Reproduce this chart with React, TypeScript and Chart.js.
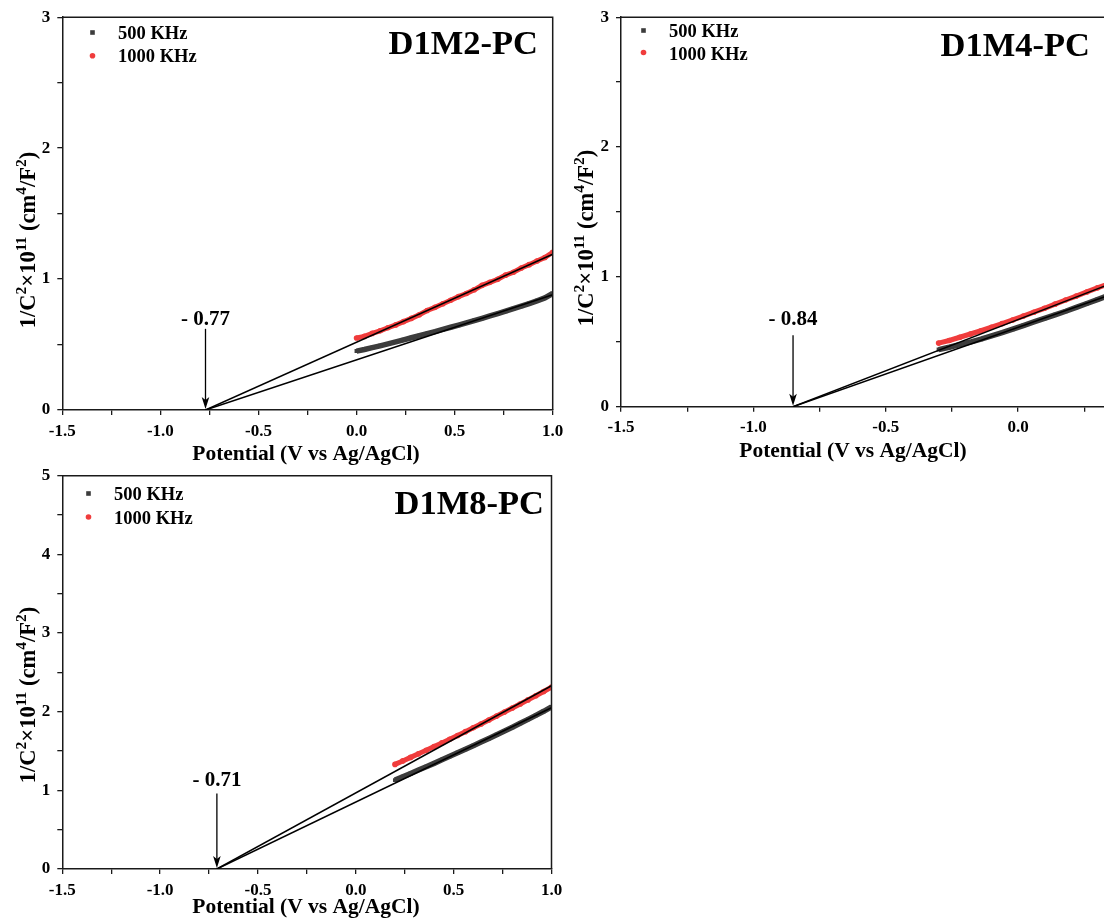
import React, { useEffect, useRef } from 'react';
import { Chart, registerables } from 'chart.js';

Chart.register(...registerables);

// ---------- shared text / axis values ----------
const SERIES_NAMES = ['500 KHz', '1000 KHz'];
const X_AXIS_TITLE = 'Potential (V vs Ag/AgCl)';
const Y_AXIS_TITLE_PARTS: [string, boolean][] = [
  ['1/C', false], ['2', true], ['\u00d710', false], ['11', true],
  [' (cm', false], ['4', true], ['/F', false], ['2', true], [')', false],
];
const X_MIN = -1.5;
const X_MAX = 1.0;
const X_TICK_STEP = 0.25;
const Y_TICK_STEP = 0.5;

// ---------- D1M2-PC ----------
const D1M2_TITLE = 'D1M2-PC';
const D1M2_Y_MAX = 3;
const D1M2_X = [0.00, 0.04, 0.08, 0.12, 0.16, 0.20, 0.24, 0.28, 0.32, 0.36, 0.40, 0.44, 0.48, 0.52, 0.56, 0.60, 0.64, 0.68, 0.72, 0.76, 0.80, 0.84, 0.88, 0.92, 0.96, 1.00];
const D1M2_500 = [0.450, 0.462, 0.476, 0.490, 0.505, 0.520, 0.536, 0.552, 0.567, 0.583, 0.598, 0.615, 0.632, 0.648, 0.665, 0.683, 0.700, 0.718, 0.736, 0.755, 0.774, 0.793, 0.813, 0.834, 0.856, 0.890];
const D1M2_1000 = [0.550, 0.562, 0.585, 0.605, 0.628, 0.650, 0.675, 0.700, 0.728, 0.760, 0.784, 0.812, 0.838, 0.866, 0.890, 0.918, 0.952, 0.975, 0.998, 1.030, 1.052, 1.085, 1.110, 1.138, 1.165, 1.205];
const D1M2_FIT_X = [-0.77, 1.0];
const D1M2_FIT_500 = [0, 0.88];
const D1M2_FIT_1000 = [0, 1.19];
const D1M2_INTERCEPT = -0.77;
const D1M2_INTERCEPT_LABEL = '- 0.77';

// ---------- D1M4-PC ----------
const D1M4_TITLE = 'D1M4-PC';
const D1M4_Y_MAX = 3;
const D1M4_X = [-0.30, -0.26, -0.22, -0.18, -0.14, -0.10, -0.06, -0.02, 0.02, 0.06, 0.10, 0.14, 0.18, 0.22, 0.26, 0.30, 0.34, 0.38, 0.42];
const D1M4_500 = [0.440, 0.458, 0.478, 0.498, 0.520, 0.545, 0.570, 0.597, 0.625, 0.653, 0.680, 0.708, 0.735, 0.765, 0.795, 0.825, 0.855, 0.885, 0.915];
const D1M4_1000 = [0.490, 0.510, 0.535, 0.560, 0.585, 0.612, 0.640, 0.668, 0.698, 0.728, 0.758, 0.790, 0.822, 0.852, 0.884, 0.915, 0.945, 0.975, 1.005];
const D1M4_FIT_X = [-0.85, 1.0];
const D1M4_FIT_500 = [0, 1.33];
const D1M4_FIT_1000 = [0, 1.46];
const D1M4_INTERCEPT = -0.85;
const D1M4_INTERCEPT_LABEL = '- 0.84';

// ---------- D1M8-PC ----------
const D1M8_TITLE = 'D1M8-PC';
const D1M8_Y_MAX = 5;
const D1M8_X = [0.20, 0.24, 0.28, 0.32, 0.36, 0.40, 0.44, 0.48, 0.52, 0.56, 0.60, 0.64, 0.68, 0.72, 0.76, 0.80, 0.84, 0.88, 0.92, 0.96, 1.00];
const D1M8_500 = [1.130, 1.172, 1.215, 1.258, 1.300, 1.343, 1.388, 1.432, 1.477, 1.522, 1.568, 1.614, 1.660, 1.708, 1.755, 1.803, 1.852, 1.902, 1.953, 2.005, 2.060];
const D1M8_1000 = [1.330, 1.374, 1.419, 1.464, 1.510, 1.556, 1.603, 1.650, 1.698, 1.746, 1.795, 1.844, 1.894, 1.944, 1.995, 2.046, 2.098, 2.150, 2.203, 2.257, 2.312];
const D1M8_FIT_X = [-0.71, 1.0];
const D1M8_FIT_500 = [0, 2.05];
const D1M8_FIT_1000 = [0, 2.33];
const D1M8_INTERCEPT = -0.71;
const D1M8_INTERCEPT_LABEL = '- 0.71';

// ---------- styles ----------
const FONT = '"Liberation Serif", "Times New Roman", serif';
const AXIS_COLOR = '#1a1a1a';
const GRAY = '#3c3c3c';
const RED = '#f03c3c';
const PAGE_W = 1104;
const PAGE_H = 922;

type Layout = {
  canvasW: number;
  area: { l: number; t: number; r: number; b: number };
  titleRight: number; titleBase: number;
  legMarkX: number; legTextX: number; legMarkY: [number, number]; legBase: [number, number];
  xTitleX: number; xTitleBase: number;
  yTitleX: number; yTitleY: number;
  arrowTop: number; labelY: number;
};

type PanelCfg = {
  title: string; yMax: number;
  x: number[]; s500: number[]; s1000: number[];
  fitX: number[]; fit500: number[]; fit1000: number[];
  intercept: number; interceptLabel: string;
  layout: Layout;
};

const PANELS: PanelCfg[] = [
  {
    title: D1M2_TITLE, yMax: D1M2_Y_MAX, x: D1M2_X, s500: D1M2_500, s1000: D1M2_1000,
    fitX: D1M2_FIT_X, fit500: D1M2_FIT_500, fit1000: D1M2_FIT_1000,
    intercept: D1M2_INTERCEPT, interceptLabel: D1M2_INTERCEPT_LABEL,
    layout: {
      canvasW: PAGE_W, area: { l: 62.3, t: 15.5, r: 552.7, b: 410 },
      titleRight: 538, titleBase: 54,
      legMarkX: 92.5, legTextX: 118, legMarkY: [32.5, 55.8], legBase: [38.5, 62],
      xTitleX: 306, xTitleBase: 460,
      yTitleX: 27, yTitleY: 240,
      arrowTop: 0.62, labelY: 0.646,
    },
  },
  {
    title: D1M4_TITLE, yMax: D1M4_Y_MAX, x: D1M4_X, s500: D1M4_500, s1000: D1M4_1000,
    fitX: D1M4_FIT_X, fit500: D1M4_FIT_500, fit1000: D1M4_FIT_1000,
    intercept: D1M4_INTERCEPT, interceptLabel: D1M4_INTERCEPT_LABEL,
    layout: {
      canvasW: 1320, area: { l: 621, t: 15.7, r: 1282.7, b: 406.7 },
      titleRight: 1090, titleBase: 55.5,
      legMarkX: 643.5, legTextX: 669, legMarkY: [30.5, 52.5], legBase: [36.5, 59.5],
      xTitleX: 853, xTitleBase: 457,
      yTitleX: 585, yTitleY: 238,
      arrowTop: 0.55, labelY: 0.627,
    },
  },
  {
    title: D1M8_TITLE, yMax: D1M8_Y_MAX, x: D1M8_X, s500: D1M8_500, s1000: D1M8_1000,
    fitX: D1M8_FIT_X, fit500: D1M8_FIT_500, fit1000: D1M8_FIT_1000,
    intercept: D1M8_INTERCEPT, interceptLabel: D1M8_INTERCEPT_LABEL,
    layout: {
      canvasW: PAGE_W, area: { l: 62.3, t: 475.7, r: 551.5, b: 869 },
      titleRight: 544, titleBase: 513.5,
      legMarkX: 88.5, legTextX: 114, legMarkY: [493.5, 517], legBase: [500, 523.5],
      xTitleX: 306, xTitleBase: 913,
      yTitleX: 27, yTitleY: 695,
      arrowTop: 0.96, labelY: 1.06,
    },
  },
];

const Y_AXIS_W = 40;
const X_AXIS_H = 40;

const decoPlugin = {
  id: 'panelDeco',
  afterDatasetsDraw(chart: any, _args: any, opts: any) {
    const cfg: PanelCfg = opts.cfg;
    const L = cfg.layout;
    const { ctx, chartArea: a, scales } = chart;
    const xs = scales.x;
    const ys = scales.y;
    ctx.save();
    // frame (top & right)
    ctx.strokeStyle = AXIS_COLOR;
    ctx.lineWidth = 1.5;
    ctx.beginPath();
    ctx.moveTo(a.left, a.top);
    ctx.lineTo(a.right, a.top);
    ctx.lineTo(a.right, a.bottom);
    ctx.stroke();

    // arrow to intercept
    const ax = xs.getPixelForValue(cfg.intercept);
    const y0 = ys.getPixelForValue(0);
    const yTop = ys.getPixelForValue(L.arrowTop);
    ctx.strokeStyle = '#000';
    ctx.lineWidth = 1.3;
    ctx.beginPath();
    ctx.moveTo(ax, yTop);
    ctx.lineTo(ax, y0 - 8);
    ctx.stroke();
    ctx.fillStyle = '#000';
    ctx.beginPath();
    ctx.moveTo(ax, y0 - 1);
    ctx.lineTo(ax - 3.8, y0 - 13);
    ctx.lineTo(ax, y0 - 10);
    ctx.lineTo(ax + 3.8, y0 - 13);
    ctx.closePath();
    ctx.fill();
    ctx.font = `bold 21px ${FONT}`;
    ctx.textAlign = 'center';
    ctx.textBaseline = 'alphabetic';
    ctx.fillText(cfg.interceptLabel, ax, ys.getPixelForValue(L.labelY));

    // panel title
    ctx.font = `bold 34.5px ${FONT}`;
    ctx.textAlign = 'right';
    ctx.fillText(cfg.title, L.titleRight, L.titleBase);

    // legend
    ctx.fillStyle = GRAY;
    ctx.fillRect(L.legMarkX - 2.3, L.legMarkY[0] - 2.3, 4.6, 4.6);
    ctx.fillStyle = RED;
    ctx.beginPath();
    ctx.arc(L.legMarkX, L.legMarkY[1], 2.8, 0, Math.PI * 2);
    ctx.fill();
    ctx.fillStyle = '#000';
    ctx.font = `bold 18.5px ${FONT}`;
    ctx.textAlign = 'left';
    ctx.fillText(SERIES_NAMES[0], L.legTextX, L.legBase[0]);
    ctx.fillText(SERIES_NAMES[1], L.legTextX, L.legBase[1]);

    // x axis title
    ctx.font = `bold 21.5px ${FONT}`;
    ctx.textAlign = 'center';
    ctx.fillText(X_AXIS_TITLE, L.xTitleX, L.xTitleBase);

    // y axis title (rich text, rotated)
    const base = 22.5;
    const sup = 15.5;
    const parts = Y_AXIS_TITLE_PARTS.map(([t, s]) => {
      ctx.font = `bold ${s ? sup : base}px ${FONT}`;
      return { t, s, w: ctx.measureText(t).width };
    });
    const total = parts.reduce((acc, p) => acc + p.w, 0);
    ctx.translate(L.yTitleX, L.yTitleY);
    ctx.rotate(-Math.PI / 2);
    ctx.textAlign = 'left';
    let cx = -total / 2;
    const bl = base * 0.34;
    for (const p of parts) {
      ctx.font = `bold ${p.s ? sup : base}px ${FONT}`;
      ctx.fillText(p.t, cx, p.s ? bl - base * 0.38 : bl);
      cx += p.w;
    }
    ctx.restore();
  },
};

const pts = (xs: number[], ys: number[]) => xs.map((x, i) => ({ x, y: ys[i] }));

function Panel({ cfg }: { cfg: PanelCfg }) {
  const ref = useRef<HTMLCanvasElement>(null);
  useEffect(() => {
    const L = cfg.layout;
    const chart = new Chart(ref.current as HTMLCanvasElement, {
      type: 'scatter',
      data: {
        datasets: [
          { label: 'fit1000', data: pts(cfg.fitX, cfg.fit1000), showLine: true, borderColor: '#000', borderWidth: 1.5, pointRadius: 0, order: 0 } as any,
          { label: 'fit500', data: pts(cfg.fitX, cfg.fit500), showLine: true, borderColor: '#000', borderWidth: 1.5, pointRadius: 0, order: 0 } as any,
          { label: SERIES_NAMES[1], data: pts(cfg.x, cfg.s1000), showLine: true, borderColor: RED, backgroundColor: RED, borderWidth: 5, pointRadius: 2.8, pointBorderWidth: 0, pointStyle: 'circle', order: 1 } as any,
          { label: SERIES_NAMES[0], data: pts(cfg.x, cfg.s500), showLine: true, borderColor: GRAY, backgroundColor: GRAY, borderWidth: 5.5, pointRadius: 2.8, pointBorderWidth: 0, pointStyle: 'rect', order: 2 } as any,
        ],
      },
      options: {
        responsive: false,
        animation: false,
        events: [],
        devicePixelRatio: 1,
        layout: {
          padding: {
            left: L.area.l - Y_AXIS_W,
            top: L.area.t,
            right: L.canvasW - L.area.r,
            bottom: PAGE_H - L.area.b - X_AXIS_H,
          },
        },
        plugins: {
          legend: { display: false },
          tooltip: { enabled: false },
          panelDeco: { cfg },
        } as any,
        scales: {
          x: {
            type: 'linear',
            min: X_MIN,
            max: X_MAX,
            afterFit: (s: any) => { s.height = X_AXIS_H; },
            border: { display: true, color: AXIS_COLOR, width: 1.5 },
            grid: { drawOnChartArea: false, drawTicks: true, tickLength: 5, color: AXIS_COLOR, lineWidth: 1.3 },
            ticks: {
              stepSize: X_TICK_STEP,
              autoSkip: false,
              maxRotation: 0,
              padding: 6,
              color: '#000',
              font: { family: FONT, size: 17, weight: 'bold' },
              callback: (v: any) => {
                const n = Number(v);
                return Math.abs(n * 2 - Math.round(n * 2)) < 1e-6 ? n.toFixed(1) : '';
              },
            },
          },
          y: {
            type: 'linear',
            min: 0,
            max: cfg.yMax,
            afterFit: (s: any) => { s.width = Y_AXIS_W; },
            border: { display: true, color: AXIS_COLOR, width: 1.5 },
            grid: { drawOnChartArea: false, drawTicks: true, tickLength: 5, color: AXIS_COLOR, lineWidth: 1.3 },
            ticks: {
              stepSize: Y_TICK_STEP,
              autoSkip: false,
              padding: 7,
              color: '#000',
              font: { family: FONT, size: 17, weight: 'bold' },
              callback: (v: any) => {
                const n = Number(v);
                return Math.abs(n - Math.round(n)) < 1e-6 ? String(Math.round(n)) : '';
              },
            },
          },
        },
      } as any,
      plugins: [decoPlugin as any],
    });
    return () => chart.destroy();
  }, [cfg]);
  return (
    <canvas
      ref={ref}
      width={cfg.layout.canvasW}
      height={PAGE_H}
      style={{ position: 'absolute', left: 0, top: 0, width: cfg.layout.canvasW, height: PAGE_H }}
    />
  );
}

export default function App() {
  return (
    <div
      style={{
        position: 'fixed', left: 0, top: 0, width: PAGE_W, height: PAGE_H,
        overflow: 'hidden', background: '#fff',
      }}
    >
      {PANELS.map((p) => (
        <Panel key={p.title} cfg={p} />
      ))}
    </div>
  );
}
